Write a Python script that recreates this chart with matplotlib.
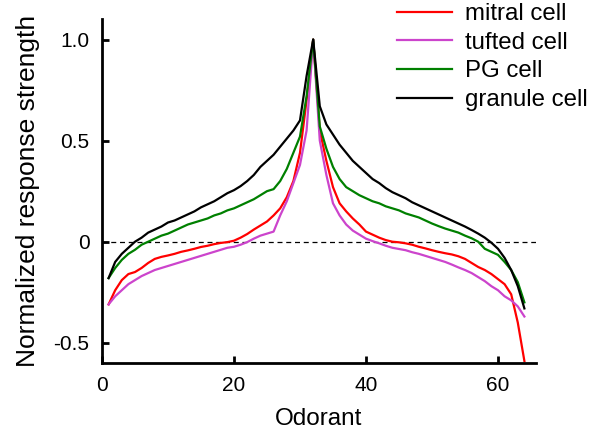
import numpy as np
import matplotlib
matplotlib.use("Agg")
import matplotlib.pyplot as plt

plt.rcParams['font.family'] = ['Liberation Sans', 'DejaVu Sans']

odorant = np.arange(1, 65)

mitral = [-0.31, -0.24, -0.19, -0.16, -0.15, -0.13, -0.105, -0.085, -0.075, -0.068,
          -0.06, -0.05, -0.043, -0.035, -0.026, -0.02, -0.012, -0.006, -0.002, 0.005,
          0.02, 0.038, 0.06, 0.08, 0.10, 0.13, 0.165, 0.22, 0.30, 0.44,
          0.70, 1.0, 0.55, 0.40, 0.27, 0.19, 0.15, 0.115, 0.085, 0.05,
          0.035, 0.02, 0.008, 0.0, -0.003, -0.008, -0.015, -0.025, -0.033, -0.042,
          -0.05, -0.057, -0.063, -0.072, -0.085, -0.105, -0.125, -0.14, -0.16, -0.185,
          -0.21, -0.26, -0.40, -0.59]

tufted = [-0.31, -0.27, -0.24, -0.21, -0.19, -0.17, -0.155, -0.14, -0.13, -0.12,
          -0.11, -0.10, -0.09, -0.08, -0.07, -0.06, -0.05, -0.04, -0.03, -0.025,
          -0.015, -0.002, 0.015, 0.03, 0.04, 0.05, 0.13, 0.20, 0.29, 0.38,
          0.55, 1.0, 0.50, 0.33, 0.19, 0.13, 0.085, 0.055, 0.035, 0.015,
          0.003, -0.008, -0.02, -0.03, -0.036, -0.042, -0.052, -0.06, -0.07, -0.08,
          -0.09, -0.10, -0.113, -0.127, -0.14, -0.155, -0.175, -0.195, -0.22, -0.24,
          -0.27, -0.29, -0.32, -0.37]

pg = [-0.18, -0.13, -0.09, -0.06, -0.04, -0.015, 0.0, 0.015, 0.03, 0.04,
      0.055, 0.07, 0.085, 0.095, 0.105, 0.115, 0.13, 0.14, 0.155, 0.165,
      0.18, 0.195, 0.21, 0.23, 0.25, 0.26, 0.30, 0.36, 0.44, 0.52,
      0.72, 1.0, 0.57, 0.46, 0.37, 0.31, 0.27, 0.25, 0.23, 0.215,
      0.20, 0.19, 0.175, 0.165, 0.155, 0.14, 0.13, 0.12, 0.105, 0.09,
      0.077, 0.065, 0.055, 0.045, 0.03, 0.017, 0.0, -0.035, -0.05, -0.065,
      -0.10, -0.14, -0.20, -0.30]

granule = [-0.18, -0.10, -0.06, -0.03, 0.0, 0.02, 0.045, 0.06, 0.075, 0.095,
           0.105, 0.12, 0.135, 0.15, 0.17, 0.185, 0.20, 0.22, 0.24, 0.255,
           0.275, 0.30, 0.33, 0.37, 0.40, 0.43, 0.47, 0.51, 0.55, 0.60,
           0.82, 1.0, 0.67, 0.58, 0.53, 0.48, 0.44, 0.40, 0.37, 0.34,
           0.31, 0.29, 0.265, 0.245, 0.23, 0.215, 0.195, 0.18, 0.165, 0.15,
           0.135, 0.12, 0.105, 0.09, 0.075, 0.058, 0.04, 0.02, -0.005, -0.035,
           -0.08, -0.14, -0.22, -0.33]

labels = ['mitral cell', 'tufted cell', 'PG cell', 'granule cell']
colors = ['#ff0000', '#cc44cc', '#008000', '#000000']

fig = plt.figure(figsize=(5.94, 4.38), dpi=100)
ax = fig.add_axes([0.1717, 0.1712, 0.730, 0.7847])

ax.axhline(0, color='black', lw=0.9, ls=(0, (4, 3)), zorder=1)
for series, lab, col in zip([mitral, tufted, pg, granule], labels, colors):
    ax.plot(odorant, series, color=col, lw=1.6, label=lab)

ax.set_xlim(0, 65.7)
ax.set_ylim(-0.6, 1.1)
ax.set_xticks([0, 20, 40, 60])
ax.set_yticks([-0.5, 0, 0.5, 1.0])
ax.set_yticklabels(['-0.5', '0', '0.5', '1.0'])
for s in ['top', 'right']:
    ax.spines[s].set_visible(False)
for s in ['left', 'bottom']:
    ax.spines[s].set_linewidth(2)
ax.tick_params(direction='in', length=5, width=2, labelsize=15)
ax.tick_params(axis='x', pad=9)
ax.tick_params(axis='y', pad=9)

ax.set_xlabel('Odorant', fontsize=17.5, labelpad=10)
ax.set_ylabel('Normalized response strength', fontsize=19, labelpad=10)

fig.legend(loc='upper left', bbox_to_anchor=(397 / 594, 1 - 3 / 438),
           frameon=False, fontsize=17.3, handlelength=2.3, handletextpad=0.54,
           labelspacing=0.28, borderpad=0, borderaxespad=0)

fig.savefig('out.png', dpi=100)
